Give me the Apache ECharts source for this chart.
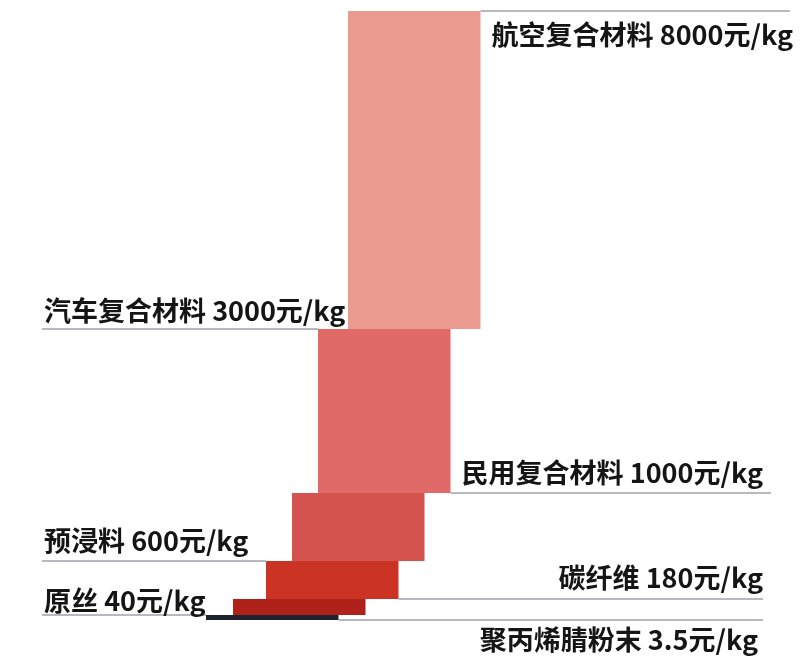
<!DOCTYPE html>
<html><head><meta charset="utf-8">
<script src="https://cdn.jsdelivr.net/npm/echarts@6/dist/echarts.min.js"></script>
<style>html,body{margin:0;padding:0;background:#fff}#c{width:806px;height:660px}</style>
</head><body><div id="c"></div>
<script>
// ---- data ----
const names = ['航空复合材料','汽车复合材料','民用复合材料','预浸料','碳纤维','原丝','聚丙烯腈粉末'];
const prices = [8000, 3000, 1000, 600, 180, 40, 3.5];
// visual height of each price step in the infographic (chart units; the source is not drawn to scale)
const levels = [609, 291, 127, 59, 21, 5, 0];
// horizontal start of each step bar, top to bottom (chart units)
const barStart = [306, 276, 250, 224, 191, 164];

// ---- styling / layout ----
const barWidth = 132.5;
const barColors = ['#EA9A8E', '#E06A67', '#D5534E', '#CB3425', '#AE2219', '#1C2230'];
const labelSide = ['right', 'left', 'right', 'left', 'right', 'left', 'right'];
const lineEnd = [748, 0, 729, 0, 721, 0, 721];      // right-side rule end (chart units)
const textRight = [751, 0, 721, 0, 721, 0, 716];    // right-side text right edge (chart units)
const textLeft = 2;
const textDy = [24, -18, -20, -20, -21, -14, 20];  // text centre offset from its rule (px)
const font = 'bold 27px "Noto Sans CJK SC", "Noto Sans", sans-serif';

const bars = barStart.map((s, i) => [s, levels[i], levels[i + 1], i]);
const labelData = levels.map((lv, k) => [0, lv, k]);

const chart = echarts.init(document.getElementById('c'), null, {renderer: 'canvas'});
chart.setOption({
  backgroundColor: '#ffffff',
  animation: false,
  grid: {left: 42, right: 16, top: 11, bottom: 40},
  xAxis: {type: 'value', min: 0, max: 748, show: false},
  yAxis: {type: 'value', min: 0, max: 609, show: false},
  series: [
    {
      type: 'custom',
      z: 2,
      data: labelData,
      renderItem: function (params, api) {
        const k = api.value(2);
        const y = api.coord([0, api.value(1)])[1];
        const adj = [];
        if (k > 0) adj.push(k - 1);
        if (k < barStart.length) adj.push(k);
        const children = [];
        let x1, x2, tx, align;
        if (labelSide[k] === 'left') {
          const m = Math.min(...adj.map(i => barStart[i]));
          x1 = api.coord([0, 0])[0];
          x2 = api.coord([m, 0])[0];
          tx = api.coord([textLeft, 0])[0];
          align = 'left';
        } else {
          const m = Math.max(...adj.map(i => barStart[i] + barWidth));
          x1 = api.coord([m, 0])[0];
          x2 = api.coord([lineEnd[k], 0])[0];
          tx = api.coord([textRight[k], 0])[0];
          align = 'right';
        }
        children.push({
          type: 'line',
          shape: {x1: x1, y1: y, x2: x2, y2: y},
          style: {stroke: '#9EA3AA', lineWidth: 1.5}
        });
        children.push({
          type: 'text',
          style: {
            text: names[k] + ' ' + prices[k] + '元/kg',
            x: tx, y: y + textDy[k],
            align: align, verticalAlign: 'middle',
            font: font, fill: '#151515'
          }
        });
        return {type: 'group', children: children};
      }
    },
    {
      type: 'custom',
      z: 3,
      data: bars,
      renderItem: function (params, api) {
        const s = api.value(0);
        const p1 = api.coord([s, api.value(1)]);
        const p2 = api.coord([s + barWidth, api.value(2)]);
        return {
          type: 'rect',
          shape: {x: p1[0], y: p1[1], width: p2[0] - p1[0], height: p2[1] - p1[1]},
          style: {fill: barColors[api.value(3)]}
        };
      }
    }
  ]
});
</script>
</body></html>
